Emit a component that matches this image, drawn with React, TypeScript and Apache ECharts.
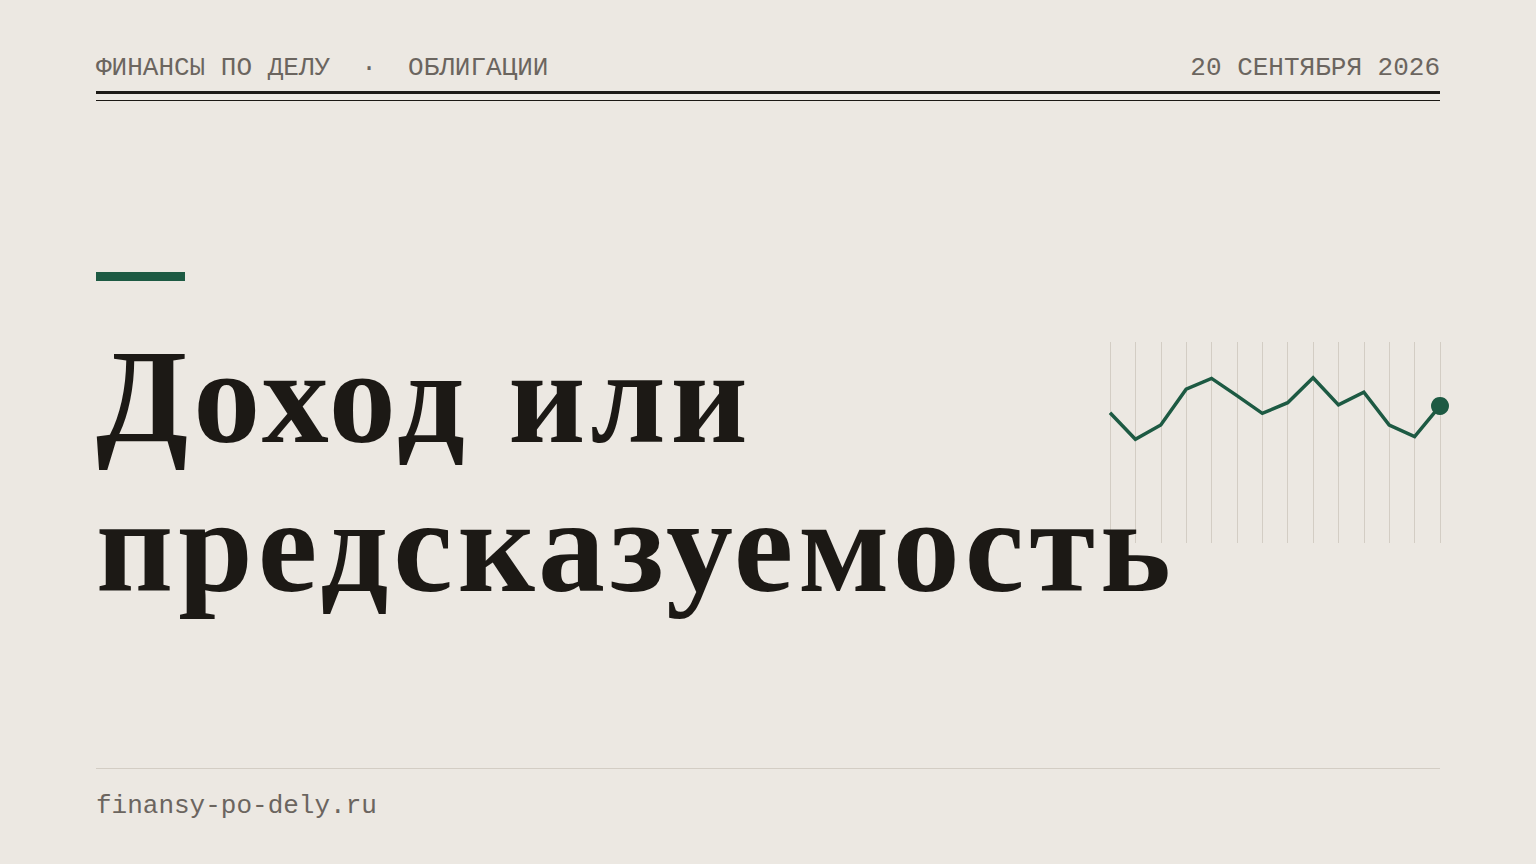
import React, { useEffect, useRef } from 'react';
import * as echarts from 'echarts';

// sparkline data
const points = ['1', '2', '3', '4', '5', '6', '7', '8', '9', '10', '11', '12', '13', '14'];
const values = [64.8, 51.6, 58.7, 76.5, 81.9, 73.3, 64.5, 69.8, 82.2, 68.7, 75.0, 58.7, 52.9, 68.2];

const headerLeft = 'ФИНАНСЫ ПО ДЕЛУ  ·  ОБЛИГАЦИИ';
const headerRight = '20 СЕНТЯБРЯ 2026';
const titleLines = ['Доход или', 'предсказуемость'];
const footer = 'finansy-po-dely.ru';

const BG = '#ece8e2';
const INK = '#1c1915';
const GREY = '#6b655f';
const GREEN = '#1d5a43';
const RULE = '#d3cdc4';
const MONO = '"Liberation Mono", "DejaVu Sans Mono", monospace';
const SERIF = '"Liberation Serif", "DejaVu Serif", serif';

const App: React.FC = () => {
    const chartRef = useRef<HTMLDivElement>(null);

    useEffect(() => {
        if (!chartRef.current) return;
        const chart = echarts.init(chartRef.current, undefined, { renderer: 'svg' });

        const option = {
            animation: false,
            backgroundColor: BG,
            grid: { left: 1110, right: 96, top: 342, bottom: 321 },
            xAxis: {
                type: 'category',
                data: points,
                boundaryGap: false,
                axisLine: { show: false },
                axisTick: { show: false },
                axisLabel: { show: false },
                splitLine: { show: true, lineStyle: { color: RULE, width: 1 } }
            },
            yAxis: {
                type: 'value',
                min: 0,
                max: 100,
                show: false,
                splitLine: { show: false }
            },
            series: [
                {
                    type: 'line',
                    data: values.map((v, i) =>
                        i === values.length - 1
                            ? { value: v, symbol: 'circle', symbolSize: 18 }
                            : { value: v, symbol: 'none' }
                    ),
                    showSymbol: true,
                    lineStyle: { color: GREEN, width: 3.5, join: 'miter' },
                    itemStyle: { color: GREEN },
                    z: 2
                }
            ],
            graphic: [
                {
                    type: 'text',
                    z: 100,
                    style: {
                        text: headerLeft, x: 96, y: 68,
                        font: `26px ${MONO}`, fill: GREY,
                        textAlign: 'left', textVerticalAlign: 'middle'
                    }
                },
                {
                    type: 'text',
                    z: 100,
                    style: {
                        text: headerRight, x: 1440, y: 68,
                        font: `26px ${MONO}`, fill: GREY,
                        textAlign: 'right', textVerticalAlign: 'middle'
                    }
                },
                {
                    type: 'rect', z: 100,
                    shape: { x: 96, y: 91, width: 1344, height: 3 },
                    style: { fill: INK }
                },
                {
                    type: 'rect', z: 100,
                    shape: { x: 96, y: 100, width: 1344, height: 1 },
                    style: { fill: INK }
                },
                {
                    type: 'rect', z: 100,
                    shape: { x: 96, y: 272, width: 89, height: 9 },
                    style: { fill: GREEN }
                },
                ...titleLines.map((t, i) => ({
                    type: 'text',
                    z: 100,
                    style: {
                        text: t, x: 96, y: 396.5 + i * 149.3,
                        font: `bold 134px ${SERIF}`, fill: INK,
                        textAlign: 'left', textVerticalAlign: 'middle'
                    }
                })),
                {
                    type: 'rect', z: 100,
                    shape: { x: 96, y: 768, width: 1344, height: 1 },
                    style: { fill: RULE }
                },
                {
                    type: 'text',
                    z: 100,
                    style: {
                        text: footer, x: 96, y: 806,
                        font: `26px ${MONO}`, fill: GREY,
                        textAlign: 'left', textVerticalAlign: 'middle'
                    }
                }
            ]
        };

        chart.setOption(option as any);

        // the headline is set with a little tracking; zrender has no letterSpacing option
        chartRef.current.querySelectorAll('text').forEach((el) => {
            if (titleLines.includes(el.textContent || '')) {
                el.setAttribute('letter-spacing', '5');
            }
        });

        const handleResize = () => chart.resize();
        window.addEventListener('resize', handleResize);

        return () => {
            window.removeEventListener('resize', handleResize);
            chart.dispose();
        };
    }, []);

    return (
        <div
            ref={chartRef}
            style={{ position: 'fixed', left: 0, top: 0, width: '100vw', height: '100vh', background: BG }}
        />
    );
};

export default App;
